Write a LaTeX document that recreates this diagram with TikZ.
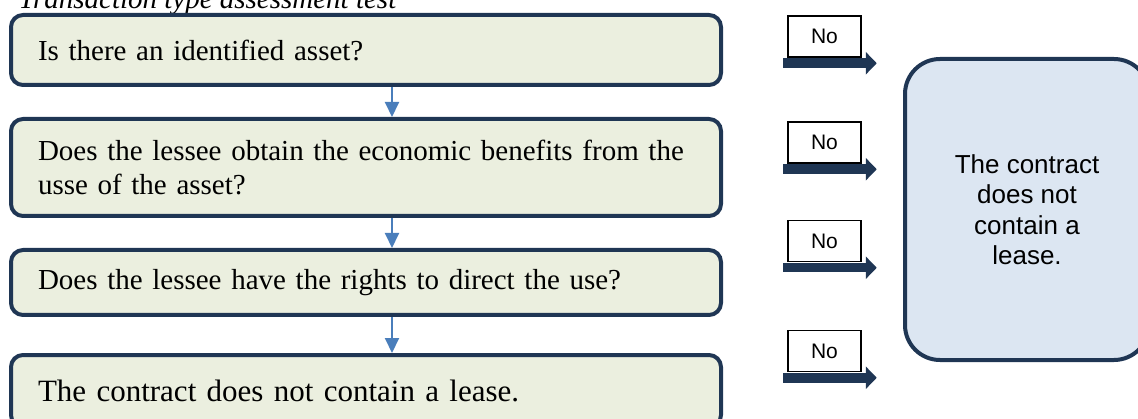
\documentclass[tikz,border=0pt]{standalone}
\usepackage{fontspec}
\setmainfont{Liberation Serif}
\newfontfamily\arialf{Liberation Sans}
\usetikzlibrary{arrows.meta}

\definecolor{navy}{HTML}{1F3654}
\definecolor{boxgreen}{HTML}{EBEFDF}
\definecolor{boxblue}{HTML}{DCE6F2}
\definecolor{flowblue}{HTML}{4A7EBB}

\tikzset{
  question/.style={draw=navy,fill=boxgreen,line width=4pt,rounded corners=12pt,
    text width=656pt,inner xsep=27pt,inner ysep=0pt,align=left,
    font=\fontsize{29}{33.5}\selectfont},
  result/.style={draw=navy,fill=boxblue,line width=4pt,rounded corners=35pt,
    minimum width=244pt,minimum height=301pt,align=center,
    font=\arialf\fontsize{26}{30.5}\selectfont},
  nolabel/.style={draw=black,fill=white,line width=1.5pt,minimum width=73pt,
    minimum height=41pt,inner sep=0pt,font=\arialf\fontsize{21}{24}\selectfont},
  noarrow/.style={draw=navy,line width=9.5pt,-{Triangle[length=11pt,width=22pt]}},
  flow/.style={draw=flowblue,line width=2pt,-{Triangle[length=15pt,width=14pt]}}
}

\begin{document}
\begin{tikzpicture}[x=1pt,y=1pt]
\useasboundingbox (0,0) rectangle (1138,418);
\node[anchor=base west,font=\itshape\fontsize{29}{33}\selectfont] (title) at(15,409) {Transaction type assessment test};

\node[question,minimum height=70pt] (asset) at(366,368) {Is there an identified asset?};
\node[question,minimum height=97pt] (benefit) at(366,250.5) {Does the lessee obtain the economic benefits from the\\usse of the asset?};
\node[question,minimum height=65pt] (direct) at(366,135.5) {Does the lessee have the rights to direct the use?};
\node[question,minimum height=72pt,font=\fontsize{31}{36}\selectfont] (nolease) at(366,27) {The contract does not contain a lease.};

\draw[flow] ([xshift=26pt]asset.south) -- ([xshift=26pt]benefit.north);
\draw[flow] ([xshift=26pt]benefit.south) -- ([xshift=26pt]direct.north);
\draw[flow] ([xshift=26pt]direct.south) -- ([xshift=26pt]nolease.north);

\foreach \n/\y in {1/381.5,2/275.5,3/177,4/67}{
  \node[nolabel] (no\n) at(824.5,\y) {No};
  \draw[noarrow] ([xshift=-4pt,yshift=-5.5pt]no\n.south west) -- ([xshift=15pt,yshift=-5.5pt]no\n.south east);
}

\node[result] (lease) at(1027,208.5) {The contract\\does not\\contain a\\lease.};
%\draw (0,0) rectangle(1138,418);
\end{tikzpicture}
\end{document}
